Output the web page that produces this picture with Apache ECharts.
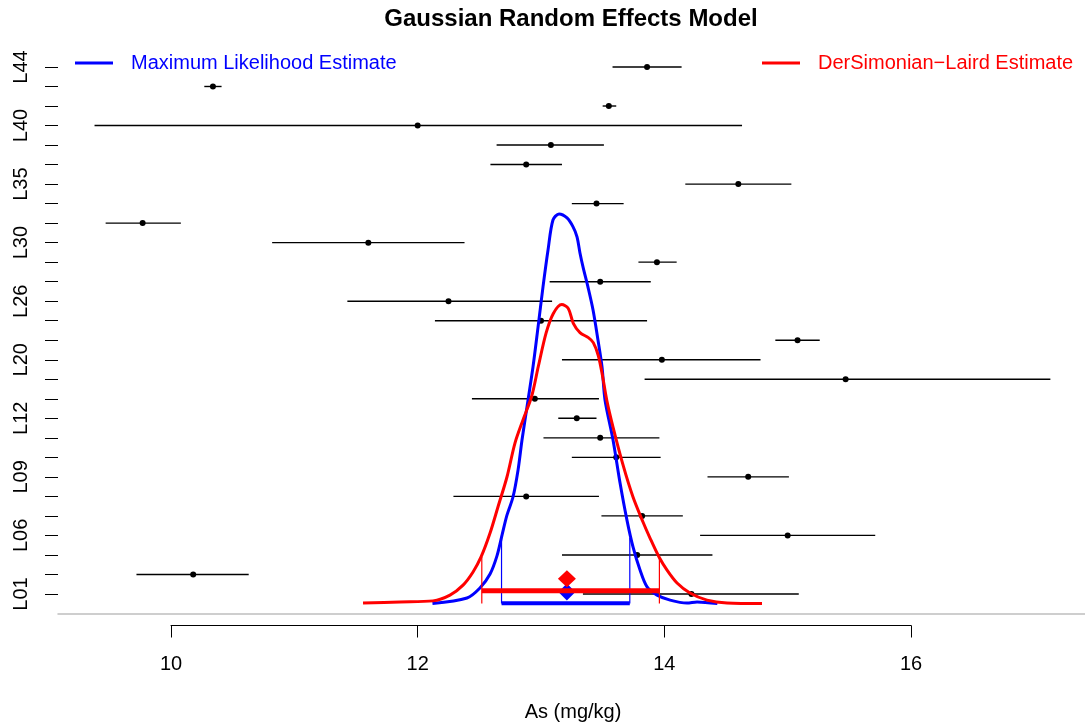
<!DOCTYPE html>
<html><head><meta charset="utf-8">
<script src="https://cdn.jsdelivr.net/npm/echarts@6/dist/echarts.min.js"></script>
<style>html,body{margin:0;padding:0;background:#fff}#c{width:1085px;height:725px}</style>
</head><body><div id="c"></div><script>
// ---------- data (rows from bottom to top) ----------
const labs = ['L01','L02','L04','L06','L07','L08','L09','L10','L11','L12','L13','L16','L20','L22',
              'L24','L26','L27','L29','L30','L31','L33','L35','L36','L38','L40','L41','L42','L44'];
const labMean  = [14.22,10.18,13.78,15.00,13.82,12.88,14.68,13.61,13.48,13.29,12.95,15.47,13.98,15.08,
                  13.00,12.25,13.48,13.94,11.60, 9.77,13.45,14.60,12.88,13.08,12.00,13.55,10.34,13.86];
const labLower = [13.34, 9.72,13.17,14.29,13.49,12.29,14.35,13.25,13.02,13.14,12.44,13.84,13.17,14.90,
                  12.14,11.43,13.07,13.79,10.82, 9.47,13.25,14.17,12.59,12.64, 9.38,13.50,10.27,13.58];
const labUpper = [15.09,10.63,14.39,15.71,14.15,13.47,15.01,13.97,13.96,13.45,13.47,17.13,14.78,15.26,
                  13.86,13.09,13.89,14.10,12.38,10.08,13.67,15.03,13.17,13.51,14.63,13.61,10.41,14.14];
const labelledLabs = ['L01','L06','L09','L12','L20','L26','L30','L35','L40','L44'];
const xTicks = [10, 12, 14, 16];

// density of the Maximum Likelihood random-effects model
const mlX    = [12.12,12.40,12.505,12.587,12.643,12.684,12.724,12.773,12.814,12.846,12.895,12.935,12.976,13.016,
                13.057,13.097,13.146,13.211,13.260,13.292,13.316,13.341,13.381,13.422,13.462,13.495,13.519,13.584,
                13.641,13.697,13.746,13.803,13.860,13.941,14.047,14.184,14.265,14.43];
const mlDens = [0,0.021,0.059,0.112,0.181,0.260,0.336,0.405,0.508,0.622,0.774,0.899,1.051,1.203,
                1.344,1.458,1.481,1.466,1.432,1.394,1.333,1.279,1.203,1.116,1.002,0.899,0.774,0.622,
                0.458,0.317,0.215,0.127,0.063,0.032,0.013,0.002,0.006,0];
// density of the DerSimonian-Laird model
const dlX    = [11.557,11.857,12.124,12.262,12.368,12.449,12.514,12.587,12.651,12.724,12.789,12.854,12.925,12.978,
                13.041,13.100,13.168,13.221,13.262,13.316,13.384,13.424,13.465,13.500,13.533,13.584,13.665,13.746,
                13.827,13.884,13.957,14.022,14.103,14.208,14.346,14.508,14.792];
const dlDens = [0.002,0.006,0.010,0.032,0.070,0.120,0.177,0.268,0.367,0.481,0.610,0.698,0.789,0.901,
                1.028,1.103,1.137,1.122,1.065,1.030,1.011,0.992,0.942,0.862,0.774,0.671,0.527,0.405,
                0.310,0.249,0.177,0.127,0.078,0.040,0.013,0.002,0];

const mlEstimate = 13.21, mlCI = [12.68, 13.72], mlCIDens = [0.26, 0.25];
const dlEstimate = 13.21, dlCI = [12.52, 13.96], dlCIDens = [0.177, 0.175];

const mlName = 'Maximum Likelihood Estimate';
const dlName = 'DerSimonian\u2212Laird Estimate';

// ---------- layout ----------
const FONT = '"Liberation Sans", Arial, Helvetica, sans-serif';
const PXU = 740 / 6;                 // pixels per x unit
const X0PX = 171, GL = 58, GR = 1085;
const xMin = 10 - (X0PX - GL) / PXU, xMax = 10 + (GR - X0PX) / PXU;
const ROWPX = 19.519, ROWBOT = 613.5;   // y pixel of row value 0
const rowMax = 29;
const gridTop = ROWBOT - rowMax * ROWPX;
const DPX = 263, DBASE = 603.5;        // density axis: px per unit, baseline px
const dMin = -(ROWBOT - DBASE) / DPX, dMax = (DBASE - gridTop) / DPX;
const mlBarRow = 0.52, dlBarRow = 1.168, mlDiaRow = 1.10, dlDiaRow = 1.783;

const rowsAll = labs.map((_, i) => i + 1);
const rowsLab = labs.map((l, i) => labelledLabs.includes(l) ? i + 1 : null).filter(v => v !== null);

const chart = echarts.init(document.getElementById('c'));

function segV(color) {
  return function (params, api) {
    const a = api.coord([api.value(0), 0]);
    const b = api.coord([api.value(0), api.value(1)]);
    return {type: 'line', shape: {x1: a[0], y1: a[1], x2: b[0], y2: b[1]},
            style: {stroke: color, lineWidth: 1.2}};
  };
}

chart.setOption({
  animation: false,
  backgroundColor: '#fff',
  textStyle: {fontFamily: FONT},
  graphic: [
    {type: 'text', x: 571, y: 19,
     style: {text: 'Gaussian Random Effects Model', font: 'bold 24px ' + FONT, fill: '#000',
             textAlign: 'center', textVerticalAlign: 'middle'}},
    {type: 'text', x: 573, y: 712,
     style: {text: 'As (mg/kg)', font: '20px ' + FONT, fill: '#000',
             textAlign: 'center', textVerticalAlign: 'middle'}}
  ],
  legend: [
    {data: [mlName], left: 75, top: 53, padding: 0, icon: 'rect', itemWidth: 38, itemHeight: 3,
     selectedMode: false, textStyle: {color: '#0000FF', fontSize: 20, fontFamily: FONT, padding: [0, 0, 0, 13]}},
    {data: [dlName], left: 762, top: 53, padding: 0, icon: 'rect', itemWidth: 38, itemHeight: 3,
     selectedMode: false, textStyle: {color: '#FF0000', fontSize: 20, fontFamily: FONT, padding: [0, 0, 0, 13]}}
  ],
  grid: [
    {left: GL, right: 1085 - GR, top: gridTop, bottom: 725 - ROWBOT},
    {left: X0PX, width: 740, top: 600, bottom: 725 - 625.5}
  ],
  xAxis: [
    {type: 'value', gridIndex: 0, min: xMin, max: xMax, splitLine: {show: false},
     axisTick: {show: false}, axisLabel: {show: false},
     axisLine: {show: true, onZero: false, lineStyle: {color: '#BEBEBE', width: 1.5}}},
    {type: 'value', gridIndex: 1, min: 10, max: 16, interval: 2, splitLine: {show: false},
     axisLine: {show: true, lineStyle: {color: '#000', width: 1}},
     axisTick: {show: true, length: 12, lineStyle: {color: '#000', width: 1}, customValues: xTicks},
     axisLabel: {show: true, margin: 29, fontSize: 20, color: '#000', fontFamily: FONT, customValues: xTicks}}
  ],
  yAxis: [
    {type: 'value', gridIndex: 0, min: 0, max: rowMax, splitLine: {show: false},
     axisLine: {show: false},
     axisTick: {show: true, length: 13, lineStyle: {color: '#000', width: 1}, customValues: rowsAll},
     axisLabel: {show: true, rotate: 90, margin: 27, fontSize: 20, color: '#000', fontFamily: FONT,
                 customValues: rowsLab, formatter: v => labs[Math.round(v) - 1]}},
    {type: 'value', gridIndex: 0, min: dMin, max: dMax, show: false, splitLine: {show: false}},
    {type: 'value', gridIndex: 1, min: 0, max: 1, show: false, splitLine: {show: false}}
  ],
  series: [
    {type: 'custom', xAxisIndex: 0, yAxisIndex: 0, z: 2,
     data: labs.map((l, i) => [labLower[i], labUpper[i], i + 1]),
     encode: {x: [0, 1], y: 2},
     renderItem(params, api) {
       const a = api.coord([api.value(0), api.value(2)]);
       const b = api.coord([api.value(1), api.value(2)]);
       return {type: 'line', shape: {x1: a[0], y1: a[1], x2: b[0], y2: b[1]},
               style: {stroke: '#000', lineWidth: 1.4}};
     }},
    {type: 'scatter', xAxisIndex: 0, yAxisIndex: 0, z: 3, symbol: 'circle', symbolSize: 6,
     itemStyle: {color: '#000', opacity: 1}, data: labs.map((l, i) => [labMean[i], i + 1])},
    {name: mlName, type: 'line', xAxisIndex: 0, yAxisIndex: 1, z: 4, color: '#0000FF',
     showSymbol: false, smooth: 0.3, lineStyle: {color: '#0000FF', width: 3},
     data: mlX.map((x, i) => [x, mlDens[i]])},
    {type: 'custom', xAxisIndex: 0, yAxisIndex: 1, z: 4, renderItem: segV('#0000FF'),
     data: mlCI.map((x, i) => [x, mlCIDens[i]])},
    {type: 'line', xAxisIndex: 0, yAxisIndex: 0, z: 4, showSymbol: false,
     lineStyle: {color: '#0000FF', width: 4, cap: 'butt'},
     data: [[mlCI[0], mlBarRow], [mlCI[1], mlBarRow]]},
    {type: 'scatter', xAxisIndex: 0, yAxisIndex: 0, z: 4, symbol: 'diamond', symbolSize: [17, 17],
     itemStyle: {color: '#0000FF', opacity: 1}, data: [[mlEstimate, mlDiaRow]]},
    {name: dlName, type: 'line', xAxisIndex: 0, yAxisIndex: 1, z: 5, color: '#FF0000',
     showSymbol: false, smooth: 0.3, lineStyle: {color: '#FF0000', width: 3},
     data: dlX.map((x, i) => [x, dlDens[i]])},
    {type: 'custom', xAxisIndex: 0, yAxisIndex: 1, z: 5, renderItem: segV('#FF0000'),
     data: dlCI.map((x, i) => [x, dlCIDens[i]])},
    {type: 'line', xAxisIndex: 0, yAxisIndex: 0, z: 5, showSymbol: false,
     lineStyle: {color: '#FF0000', width: 5, cap: 'butt'},
     data: [[dlCI[0], dlBarRow], [dlCI[1], dlBarRow]]},
    {type: 'scatter', xAxisIndex: 0, yAxisIndex: 0, z: 6, symbol: 'diamond', symbolSize: [18, 17],
     itemStyle: {color: '#FF0000', opacity: 1}, data: [[dlEstimate, dlDiaRow]]},
    {type: 'scatter', xAxisIndex: 1, yAxisIndex: 2, data: [], silent: true}
  ]
});
</script></body></html>
